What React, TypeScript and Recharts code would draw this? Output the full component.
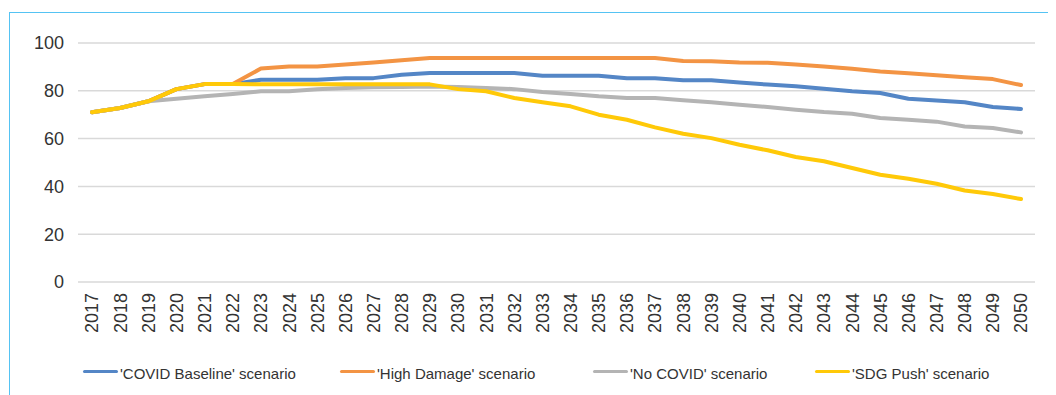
import React from "react";
import { LineChart, Line, XAxis, YAxis, CartesianGrid, Legend } from "recharts";

const years = [
  "2017","2018","2019","2020","2021","2022","2023","2024","2025","2026","2027","2028",
  "2029","2030","2031","2032","2033","2034","2035","2036","2037","2038","2039","2040",
  "2041","2042","2043","2044","2045","2046","2047","2048","2049","2050",
];

const covidBaseline = [
  71.0, 72.8, 75.6, 80.7, 82.8, 82.8, 84.6, 84.6, 84.6, 85.3, 85.3, 86.7,
  87.4, 87.4, 87.4, 87.4, 86.3, 86.3, 86.3, 85.3, 85.3, 84.4, 84.4, 83.5,
  82.6, 81.9, 80.9, 79.8, 79.1, 76.7, 75.9, 75.2, 73.2, 72.4,
];

const highDamage = [
  71.0, 72.8, 75.6, 80.7, 82.8, 82.8, 89.3, 90.2, 90.2, 91.0, 91.8, 92.8,
  93.7, 93.7, 93.7, 93.7, 93.7, 93.7, 93.7, 93.7, 93.7, 92.5, 92.4, 91.8,
  91.7, 91.0, 90.2, 89.2, 88.1, 87.3, 86.5, 85.7, 84.9, 82.4,
];

const noCovid = [
  71.0, 72.8, 75.6, 76.7, 77.7, 78.7, 79.8, 79.8, 80.6, 81.2, 81.5, 81.6,
  81.8, 81.6, 81.2, 80.7, 79.5, 78.7, 77.7, 77.0, 77.0, 76.0, 75.2, 74.2,
  73.2, 72.1, 71.1, 70.4, 68.6, 67.9, 67.1, 65.1, 64.4, 62.6,
];

const sdgPush = [
  71.0, 72.8, 75.6, 80.7, 82.8, 82.8, 82.7, 82.7, 82.7, 82.7, 82.7, 82.7,
  82.7, 80.7, 79.8, 77.0, 75.2, 73.5, 70.0, 67.9, 64.7, 62.0, 60.2, 57.4,
  55.1, 52.3, 50.5, 47.7, 44.9, 43.2, 41.1, 38.3, 36.8, 34.7,
];

const yTicks = [0, 20, 40, 60, 80, 100];

const seriesNames = [
  "'COVID Baseline' scenario",
  "'High Damage' scenario",
  "'No COVID' scenario",
  "'SDG Push' scenario",
];
const seriesKeys = ["baseline", "high", "nocovid", "sdg"];
const seriesColors = ["#5486C6", "#F39444", "#B4B4B4", "#FFC908"];

const data = years.map((y, i) => ({
  year: y,
  baseline: covidBaseline[i],
  high: highDamage[i],
  nocovid: noCovid[i],
  sdg: sdgPush[i],
}));

const FONT = '"Liberation Sans", Arial, Helvetica, sans-serif';
const TEXT_COLOR = "#333333";
const legendLefts = [75, 332, 585, 807];

const XTick = (props: any) => {
  const { x, y, payload } = props;
  return (
    <text
      x={x}
      y={y}
      transform={`rotate(-90 ${x} ${y})`}
      textAnchor="end"
      dy="0.36em"
      fontSize={18}
      fontFamily={FONT}
      fill={TEXT_COLOR}
    >
      {payload.value}
    </text>
  );
};

const LegendContent = () => (
  <div style={{ position: "relative", height: 24, width: "100%" }}>
    {seriesNames.map((name, i) => (
      <div
        key={name}
        style={{
          position: "absolute",
          left: legendLefts[i],
          top: 0,
          height: 24,
          display: "flex",
          alignItems: "center",
          whiteSpace: "nowrap",
        }}
      >
        <div
          style={{
            width: 35,
            height: 3.5,
            borderRadius: 2,
            background: seriesColors[i],
            marginRight: 2,
            marginTop: -3,
          }}
        />
        <span style={{ fontSize: 15, fontFamily: FONT, color: TEXT_COLOR }}>{name}</span>
      </div>
    ))}
  </div>
);

export default function App() {
  return (
    <div style={{ position: "relative", width: 1048, height: 387 }}>
      <div
        style={{
          position: "absolute",
          left: 1,
          top: 4,
          width: 1047,
          height: 383,
          borderLeft: "1.5px solid #55C3F3",
          borderTop: "1.5px solid #55C3F3",
          boxSizing: "border-box",
        }}
      />
      <div style={{ position: "absolute", left: 0, top: 0 }}>
        <LineChart
          width={1048}
          height={387}
          data={data}
          margin={{ top: 35, right: 21, left: 0, bottom: 10 }}
        >
          <CartesianGrid vertical={false} stroke="#D9D9D9" strokeWidth={1.5} />
          <XAxis
            dataKey="year"
            interval={0}
            padding={{ left: 14, right: 14 }}
            axisLine={false}
            tickLine={false}
            tickSize={0}
            tickMargin={11}
            height={79}
            tick={<XTick />}
          />
          <YAxis
            domain={[0, 100]}
            ticks={yTicks}
            width={70}
            axisLine={false}
            tickLine={false}
            tickSize={0}
            tickMargin={14}
            tick={{ fontSize: 18, fontFamily: FONT, fill: TEXT_COLOR }}
          />
          <Legend verticalAlign="bottom" content={<LegendContent />} />
          {seriesKeys.map((k, i) => (
            <Line
              key={k}
              type="linear"
              dataKey={k}
              name={seriesNames[i]}
              stroke={seriesColors[i]}
              strokeWidth={4}
              strokeLinecap="round"
              strokeLinejoin="round"
              dot={false}
              activeDot={false}
              isAnimationActive={false}
            />
          ))}
        </LineChart>
      </div>
    </div>
  );
}
